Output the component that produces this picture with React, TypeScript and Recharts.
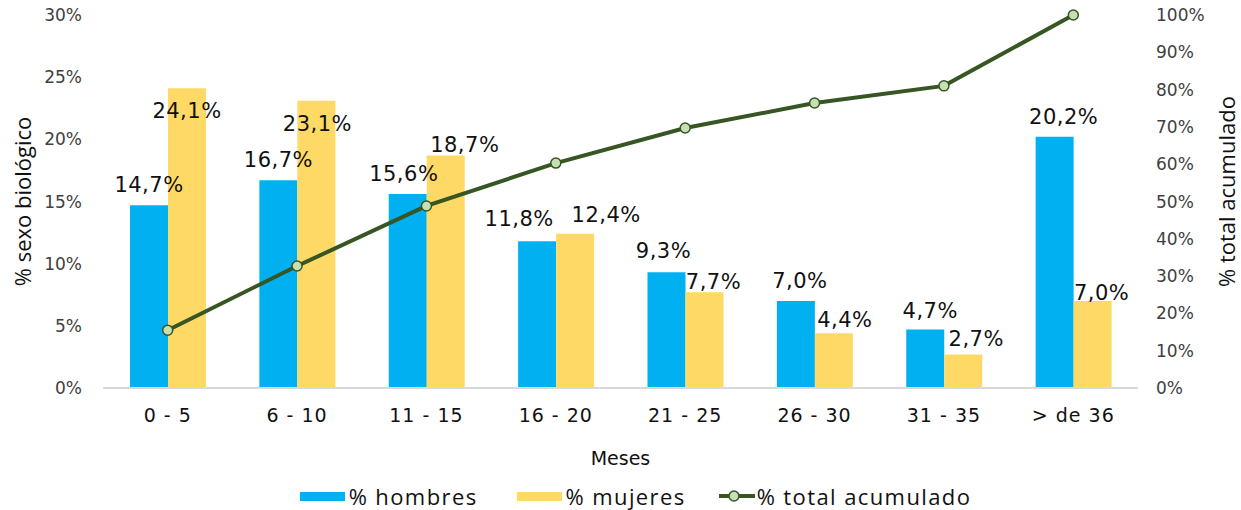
import React from 'react';
import {
  ComposedChart,
  Bar,
  Line,
  XAxis,
  YAxis,
  Legend,
  LabelList,
} from 'recharts';

const CATEGORIAS = ['0 - 5', '6 - 10', '11 - 15', '16 - 20', '21 - 25', '26 - 30', '31 - 35', '> de 36'];
const HOMBRES = [14.7, 16.7, 15.6, 11.8, 9.3, 7.0, 4.7, 20.2];
const MUJERES = [24.1, 23.1, 18.7, 12.4, 7.7, 4.4, 2.7, 7.0];
const ACUMULADO = [15.5, 32.7, 48.8, 60.3, 69.7, 76.4, 81.0, 100];
const TICKS_IZQ = [0, 5, 10, 15, 20, 25, 30];
const TICKS_DER = [0, 10, 20, 30, 40, 50, 60, 70, 80, 90, 100];

// label nudges (px), the original labels were moved by hand
const HOMBRES_DX = [0, 0, -4, -18, -3, 4, 5, 9];
const HOMBRES_DY = [-20, -20, -20, -22, -21, -20, -19, -20];
const MUJERES_DX = [0, 1, 19, 31, 9, 11, 13, 9];
const MUJERES_DY = [23, 23, -10, -19, -10, -13, -15, -8];

const BLUE = '#00B0F0';
const YELLOW = '#FFD966';
const GREEN = '#375623';
const MARKER = '#C5E0B4';
const FONT = '"DejaVu Sans", Verdana, sans-serif';
const FONT2 = '"Open Sans", sans-serif';

const data = CATEGORIAS.map((c, i) => ({
  cat: c,
  hombres: HOMBRES[i],
  mujeres: MUJERES[i],
  acumulado: ACUMULADO[i],
}));

const fmt = (v: number) => `${v.toFixed(1).replace('.', ',')}%`;

const makeLabel = (dx: number[], dy: number[]) => (props: any) => {
  const { x, y, width, value, index } = props;
  return (
    <text
      x={Number(x) + Number(width) / 2 + dx[index]}
      y={Number(y) + dy[index]}
      textAnchor="middle"
      dominantBaseline="central"
      fontFamily={FONT}
      fontSize={21}
      letterSpacing={0.5}
      fill="#111"
    >
      {fmt(Number(value))}
    </text>
  );
};

const VerticalTitle = (props: any) => {
  const { viewBox, value, cx, dy = 0 } = props;
  const cy = viewBox.y + viewBox.height / 2 + dy;
  return (
    <text
      x={cx}
      y={cy}
      transform={`rotate(-90, ${cx}, ${cy})`}
      textAnchor="middle"
      dominantBaseline="central"
      fontFamily={FONT2}
      fontSize={22}
      fill="#111"
    >
      {value}
    </text>
  );
};

const renderLegend = () => (
  <div
    style={{
      display: 'flex',
      justifyContent: 'center',
      alignItems: 'center',
      fontFamily: FONT2,
      fontSize: 22,
      letterSpacing: 1.4,
      color: '#111',
      paddingLeft: 30,
      marginTop: 6,
    }}
  >
    <span style={{ display: 'inline-block', width: 45, height: 9, background: BLUE, marginRight: 4 }} />
    <span style={{ marginRight: 39 }}>% hombres</span>
    <span style={{ display: 'inline-block', width: 45, height: 9, background: YELLOW, marginRight: 4 }} />
    <span style={{ marginRight: 33 }}>% mujeres</span>
    <svg width={36} height={14} style={{ marginRight: 2 }}>
      <line x1={0} y1={7} x2={36} y2={7} stroke={GREEN} strokeWidth={4} />
      <circle cx={15} cy={7} r={5} fill={MARKER} stroke={GREEN} strokeWidth={1.5} />
    </svg>
    <span>% total acumulado</span>
  </div>
);

export default function App() {
  return (
    <div style={{ position: 'absolute', left: 0, top: 0, background: '#fff' }}>
      <ComposedChart
        width={1241}
        height={510}
        data={data}
        margin={{ top: 15, right: 0, left: 0, bottom: 0 }}
        barGap={0}
      >
        <XAxis
          dataKey="cat"
          height={87}
          tickLine={false}
          axisLine={{ stroke: '#D9D9D9', strokeWidth: 2 }}
          tickMargin={15}
          tick={{ fontFamily: FONT, fontSize: 19, fill: '#111', letterSpacing: 1 }}
          label={{
            value: 'Meses',
            position: 'insideBottom',
            offset: 10,
            style: { fontFamily: FONT, fontSize: 19, fill: '#111' },
          }}
        />
        <YAxis
          yAxisId="left"
          width={103}
          domain={[0, 30]}
          ticks={TICKS_IZQ}
          tickFormatter={(v: number) => `${v}%`}
          axisLine={false}
          tickLine={false}
          tickMargin={15}
          tick={{ fontFamily: FONT, fontSize: 17, fill: '#404040' }}
          label={<VerticalTitle value="% sexo biológico" cx={22} />}
        />
        <YAxis
          yAxisId="right"
          orientation="right"
          width={103}
          domain={[0, 100]}
          ticks={TICKS_DER}
          tickFormatter={(v: number) => `${v}%`}
          axisLine={false}
          tickLine={false}
          tickMargin={12}
          tick={{ fontFamily: FONT, fontSize: 17, fill: '#404040' }}
          label={<VerticalTitle value="% total acumulado" cx={1226} dy={-10} />}
        />
        <Legend
          verticalAlign="bottom"
          height={35}
          content={renderLegend}
        />
        <Bar yAxisId="left" dataKey="hombres" name="% hombres" fill={BLUE} barSize={38} isAnimationActive={false}>
          <LabelList dataKey="hombres" content={makeLabel(HOMBRES_DX, HOMBRES_DY)} />
        </Bar>
        <Bar yAxisId="left" dataKey="mujeres" name="% mujeres" fill={YELLOW} barSize={38} isAnimationActive={false}>
          <LabelList dataKey="mujeres" content={makeLabel(MUJERES_DX, MUJERES_DY)} />
        </Bar>
        <Line
          yAxisId="right"
          dataKey="acumulado"
          name="% total acumulado"
          stroke={GREEN}
          strokeWidth={4}
          dot={{ r: 5, fill: MARKER, stroke: GREEN, strokeWidth: 1.5 }}
          isAnimationActive={false}
        />
      </ComposedChart>
    </div>
  );
}
